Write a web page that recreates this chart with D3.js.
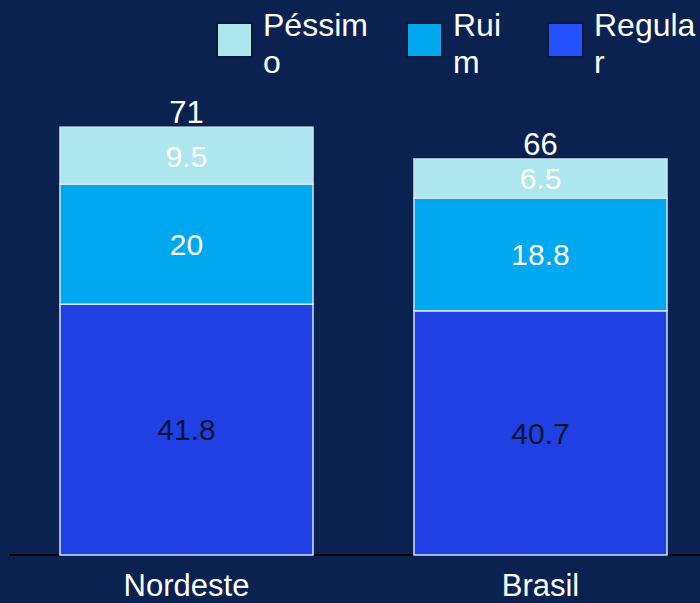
<!DOCTYPE html>
<html><head><meta charset="utf-8">
<script src="https://cdn.jsdelivr.net/npm/d3@7/dist/d3.min.js"></script>
<style>html,body{margin:0;padding:0;background:#0b2250;}svg{display:block;font-family:"Liberation Sans",Arial,sans-serif;}</style>
</head><body><svg width="700" height="603"></svg>
<script>
const categories = ["Nordeste", "Brasil"];
const seriesNames = ["Regular", "Ruim", "Péssimo"];
const regular = [41.8, 40.7];
const ruim = [20, 18.8];
const pessimo = [9.5, 6.5];
const totals = ["71", "66"];
const legendLines = [["Péssim","o"],["Rui","m"],["Regula","r"]];

const barColors = {"Regular":"#2140e4","Ruim":"#00a8f0","Péssimo":"#ade6ee"};
const legendColors = ["#ade6ee","#00a8f0","#2450ff"];
const labelColors = {"Regular":"#0a1530","Ruim":"#ffffff","Péssimo":"#ffffff"};

const svg = d3.select("svg");
const data = categories.map((c,i)=>({cat:c, Regular:regular[i], Ruim:ruim[i], "Péssimo":pessimo[i]}));
const stack = d3.stack().keys(seriesNames)(data);

const x = d3.scalePoint().domain(categories).range([186.5, 540.5]);
const y = d3.scaleLinear().domain([0, 100]).range([555, -45]);

// axis baseline
svg.append("line").attr("x1",9).attr("x2",700).attr("y1",y(0)).attr("y2",y(0))
  .attr("stroke","#000").attr("stroke-width",2);

const bw = 253;
const bx = c => x(c) - bw/2;

stack.forEach(layer=>{
  const key = layer.key;
  svg.append("g").selectAll("rect").data(layer).join("rect")
    .attr("x", d=>bx(d.data.cat))
    .attr("width", bw)
    .attr("y", d=>y(d[1]))
    .attr("height", d=>y(d[0])-y(d[1]))
    .attr("fill", barColors[key])
    .attr("stroke","#d4e4f2").attr("stroke-width",1.5);
  svg.append("g").selectAll("text").data(layer).join("text")
    .attr("x", d=>x(d.data.cat))
    .attr("y", d=>(y(d[0])+y(d[1]))/2)
    .attr("dy","0.36em")
    .attr("text-anchor","middle")
    .attr("font-size",30)
    .attr("fill", labelColors[key])
    .text(d=>String(d.data[key]));
});

// totals
const topLayer = stack[stack.length-1];
svg.append("g").selectAll("text").data(topLayer).join("text")
  .attr("x", d=>x(d.data.cat))
  .attr("y", d=>y(d[1]) - 4)
  .attr("text-anchor","middle")
  .attr("font-size",31)
  .attr("fill","#ffffff")
  .text((d,i)=>totals[i]);

// category labels
svg.append("g").selectAll("text").data(categories).join("text")
  .attr("x", c=>x(c))
  .attr("y", 596)
  .attr("text-anchor","middle")
  .attr("font-size",31)
  .attr("fill","#ffffff")
  .text(c=>c);

// legend
const legX = [217, 407, 548];
const lg = svg.append("g");
legendLines.forEach((lines,i)=>{
  lg.append("rect").attr("x",legX[i]).attr("y",23).attr("width",35).attr("height",34)
    .attr("fill",legendColors[i]).attr("stroke","#0a1a38").attr("stroke-width",2);
  const t = lg.append("text").attr("x",legX[i]+46).attr("y",36).attr("font-size",32).attr("fill","#ffffff");
  lines.forEach((ln,j)=>{
    t.append("tspan").attr("x",legX[i]+46).attr("y",36 + j*37).text(ln);
  });
});
</script></body></html>
